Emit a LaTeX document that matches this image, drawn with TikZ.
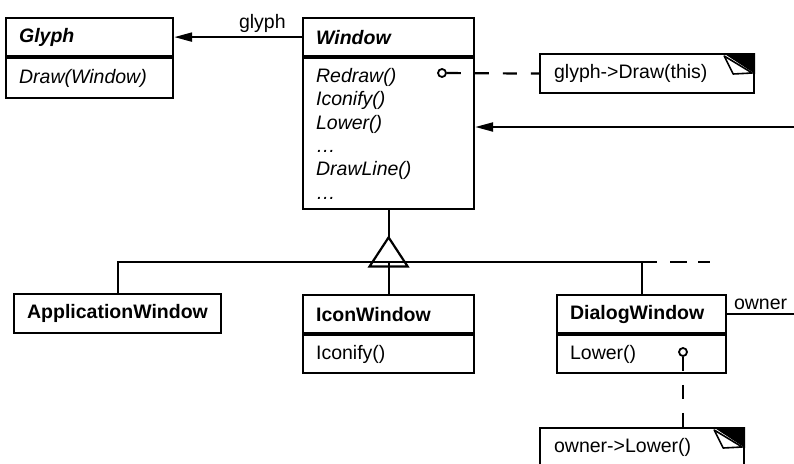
\documentclass[tikz,border=0pt]{standalone}
\usepackage{fontspec}
\setmainfont{Liberation Sans}
\usetikzlibrary{arrows.meta, positioning}
\newcommand{\umlfont}{\fontsize{19.5}{23.4}\selectfont}
\newcommand{\dogear}[1]{%
  \fill (#1.north east) -- ++(-32,0) -- ++(32,21) -- cycle;
  \filldraw[fill=white, line width=1.6pt, line join=round] (#1.north east) ++(-31,3) -- ++(9,18) -- ++(19,-1) -- cycle;
}
\tikzset{
  classbox/.style={draw, anchor=north west, inner xsep=13pt, inner ysep=0pt, align=left, font=\umlfont, minimum width=#1, text width={#1-26pt}},
  header/.style={classbox=#1, minimum height=38pt, font=\umlfont\bfseries},
  abstract/.style={font=\umlfont\bfseries\itshape},
  ops/.style={classbox=#1, minimum height=39pt},
  notebox/.style={classbox=#1, minimum height=39pt, inner xsep=14pt, text width={#1-28pt}},
  dot/.style={draw, circle, line width=1.8pt, fill=white, minimum size=8pt, inner sep=0pt},
  assoc/.style={-{Triangle[length=18pt, width=9pt]}},
  link/.style={dash pattern=on 14pt off 14pt}
}

\begin{document}
\begin{tikzpicture}[
        x=1pt, y=-1pt,
        line width=2.2pt,
    ]
    \path[use as bounding box, clip] (0,0) rectangle (794,463);
    \node[header=167pt, abstract] (glyphH) at (5,17) {Glyph};
    \node[ops=167pt, minimum height=40pt, font=\umlfont\itshape] (glyphB) at (glyphH.south west) {Draw(Window)};
    \node[header=171pt, abstract] (winH) at (302,17) {Window};
    \node[ops=171pt, minimum height=151pt, font=\umlfont\itshape] (winB) at (winH.south west)
        {Redraw()\\ Iconify()\\ Lower()\\ \ldots\\ DrawLine()\\ \ldots};
    \node[header=207pt, minimum height=39pt] (appH) at (13,293) {ApplicationWindow};
    \node[header=171pt] (iconH) at (302,294) {IconWindow};
    \node[ops=171pt, minimum height=38pt] (iconB) at (iconH.south west) {Iconify()};
    \node[header=169pt] (dlgH) at (556,294) {DialogWindow};
    \node[ops=169pt, minimum height=38pt] (dlgB) at (dlgH.south west) {Lower()};
    \node[notebox=214pt] (note1) at (539,53) {glyph->Draw(this)};
    \node[notebox=204pt] (note2) at (539,427) {owner->Lower()};
    \dogear{note1}
    \dogear{note2}
    \node[dot] (redrawdot) at (442,73) {};
    \node[dot] (lowerdot) at (683,352) {};
    \coordinate (ownerin) at (794,127);
    \coordinate (ownerout) at (794,313);
    \coordinate (barend) at (657,262);
    \coordinate (barfree) at (710,262);
    \draw[assoc] (winH.west) to node[above, pos=0.31, font=\umlfont] (glyphlbl) {glyph} (winH.west -| glyphH.east);
    \draw[assoc] (ownerin) to (ownerin -| winB.east);
    \draw (dlgH.east) to node[above, font=\umlfont] (ownerlbl) {owner} (dlgH.east -| ownerout);
    \draw (winB.south) -- ++(0,27) coordinate (apex);
    \draw (apex) -- ++(-19,29) -- ++(38,0) -- cycle;
    \draw (appH.north) |- (barend);
    \draw[dash pattern=on 0pt off 13pt on 17pt off 11pt on 12pt] (barend) -- (barfree);
    \draw (iconH.north) -- (iconH.north |- barend);
    \draw (dlgH.north) -- (dlgH.north |- barend);
    \draw[link] (redrawdot) -- (note1.west);
    \draw[link] (lowerdot) -- (lowerdot |- note2.north);
    \end{tikzpicture}
\end{document}
